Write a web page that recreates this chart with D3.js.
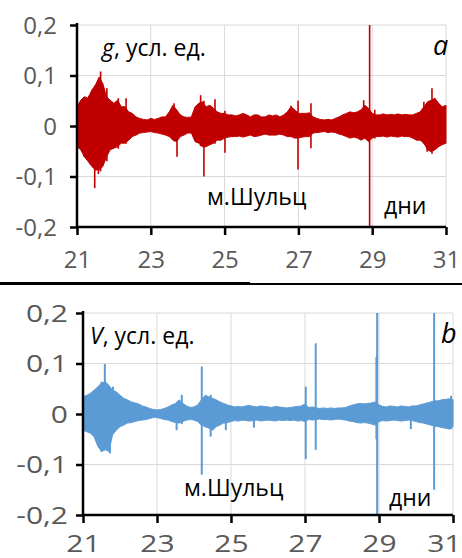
<!DOCTYPE html>
<html><head><meta charset="utf-8">
<script src="https://cdn.jsdelivr.net/npm/d3@7"></script>
<style>html,body{margin:0;padding:0;background:#fff;}svg{display:block;}</style>
</head><body>
<svg id="c" width="462" height="558"></svg>
<script>
// ---- data ----
const xTicks = [21, 23, 25, 27, 29, 31];
const yTicks = [-0.2, -0.1, 0, 0.1, 0.2];
const yTickLabels = ["-0,2", "-0,1", "0", "0,1", "0,2"];
const sampleStart = 21, sampleStep = 0.1; // envelope readings every 0.1 day

// panel a: g, upper / lower envelope of the dense signal
const gUpper = [0.038,0.051,0.058,0.055,0.071,0.081,0.097,0.084,0.058,0.051,
  0.045,0.051,0.038,0.038,0.028,0.025,0.018,0.015,0.013,0.012,
  0.015,0.013,0.015,0.018,0.018,0.028,0.041,0.032,0.022,0.018,
  0.017,0.018,0.038,0.045,0.048,0.038,0.041,0.035,0.028,0.025,
  0.025,0.022,0.022,0.020,0.022,0.025,0.022,0.018,0.022,0.022,
  0.018,0.018,0.022,0.020,0.022,0.018,0.022,0.028,0.038,0.032,
  0.025,0.025,0.025,0.026,0.018,0.015,0.013,0.012,0.013,0.012,
  0.015,0.018,0.022,0.025,0.028,0.026,0.028,0.032,0.041,0.035,
  0.025,0.022,0.022,0.024,0.022,0.023,0.022,0.024,0.022,0.023,
  0.022,0.022,0.025,0.028,0.038,0.048,0.051,0.055,0.045,0.038,0.041];
const gLower = [-0.041,-0.047,-0.061,-0.070,-0.080,-0.087,-0.087,-0.080,-0.061,-0.047,
  -0.044,-0.041,-0.034,-0.034,-0.028,-0.021,-0.018,-0.014,-0.013,-0.012,
  -0.011,-0.013,-0.014,-0.016,-0.018,-0.021,-0.028,-0.031,-0.021,-0.018,
  -0.014,-0.014,-0.031,-0.034,-0.041,-0.041,-0.037,-0.034,-0.028,-0.028,
  -0.024,-0.022,-0.021,-0.021,-0.020,-0.022,-0.020,-0.018,-0.021,-0.020,
  -0.018,-0.016,-0.018,-0.018,-0.018,-0.016,-0.018,-0.021,-0.021,-0.024,
  -0.024,-0.022,-0.021,-0.021,-0.014,-0.013,-0.012,-0.011,-0.013,-0.012,
  -0.013,-0.016,-0.018,-0.021,-0.024,-0.022,-0.024,-0.028,-0.024,-0.031,
  -0.024,-0.021,-0.021,-0.020,-0.022,-0.020,-0.021,-0.022,-0.020,-0.021,
  -0.021,-0.024,-0.028,-0.028,-0.034,-0.047,-0.051,-0.047,-0.041,-0.037,-0.034];
// spikes: [day, max, min]
const gSpikes = [[21.19,0.050,-0.061],[21.32,0.060,-0.067],[21.48,0.080,-0.123],[21.58,0.090,-0.095],
  [21.64,0.108,-0.090],[21.81,0.075,-0.070],[22.12,0.055,-0.045],[22.33,0.055,-0.035],
  [23.63,0.045,-0.030],[23.71,0.030,-0.061],[24.35,0.061,-0.040],[24.44,0.050,-0.100],
  [24.74,0.053,-0.035],[25.01,0.030,-0.053],[26.80,0.040,-0.020],[26.99,0.050,-0.086],
  [27.34,0.045,-0.044],[28.77,0.051,-0.025],[28.93,0.200,-0.200],[29.07,0.032,-0.025],
  [30.40,0.048,-0.035],[30.49,0.040,-0.051],[30.62,0.075,-0.055],[30.80,0.042,-0.040]];

// panel b: V
const vUpper = [0.034,0.037,0.041,0.047,0.054,0.061,0.064,0.057,0.047,0.044,
  0.037,0.031,0.028,0.024,0.022,0.020,0.016,0.014,0.011,0.009,
  0.008,0.009,0.011,0.014,0.018,0.021,0.028,0.021,0.016,0.013,
  0.014,0.018,0.028,0.037,0.034,0.031,0.028,0.024,0.021,0.018,
  0.016,0.014,0.015,0.014,0.016,0.017,0.015,0.014,0.016,0.015,
  0.014,0.013,0.015,0.014,0.013,0.012,0.013,0.014,0.015,0.016,
  0.020,0.013,0.014,0.012,0.011,0.012,0.011,0.012,0.011,0.012,
  0.012,0.013,0.016,0.018,0.020,0.021,0.020,0.021,0.022,0.024,
  0.018,0.015,0.014,0.016,0.015,0.014,0.016,0.015,0.014,0.016,
  0.016,0.018,0.020,0.022,0.024,0.026,0.026,0.028,0.029,0.030,0.028];
const vLower = [-0.032,-0.035,-0.038,-0.045,-0.064,-0.074,-0.071,-0.074,-0.041,-0.032,
  -0.025,-0.022,-0.018,-0.017,-0.015,-0.013,-0.012,-0.011,-0.009,-0.007,
  -0.007,-0.009,-0.011,-0.012,-0.015,-0.017,-0.018,-0.015,-0.012,-0.011,
  -0.012,-0.015,-0.022,-0.025,-0.028,-0.032,-0.025,-0.022,-0.018,-0.017,
  -0.015,-0.013,-0.014,-0.012,-0.013,-0.014,-0.013,-0.012,-0.014,-0.013,
  -0.012,-0.013,-0.014,-0.012,-0.013,-0.012,-0.013,-0.012,-0.014,-0.013,
  -0.015,-0.011,-0.012,-0.011,-0.010,-0.011,-0.011,-0.012,-0.011,-0.010,
  -0.011,-0.012,-0.014,-0.015,-0.017,-0.018,-0.017,-0.018,-0.020,-0.022,
  -0.015,-0.013,-0.014,-0.013,-0.012,-0.013,-0.014,-0.013,-0.012,-0.013,
  -0.015,-0.017,-0.018,-0.020,-0.022,-0.024,-0.025,-0.027,-0.028,-0.030,-0.025];
const vSpikes = [[21.50,0.064,-0.075],[21.59,0.099,-0.060],[21.73,0.050,-0.078],[21.81,0.054,-0.040],
  [23.53,0.020,-0.032],[23.67,0.038,-0.020],[24.21,0.094,-0.120],[24.45,0.038,-0.045],
  [24.86,0.020,-0.032],[25.62,0.015,-0.027],[27.02,0.054,-0.089],[27.29,0.140,-0.071],
  [28.93,0.113,-0.050],[28.95,0.200,-0.200],[29.86,0.015,-0.030],[30.49,0.200,-0.150],
  [30.95,0.036,-0.030]];

// ---- drawing ----
const W = 462;
const svg = d3.select("#c");
svg.append("rect").attr("width",462).attr("height",558).attr("fill","#fff");

function panel(cfg) {
  const x = d3.scaleLinear().domain([21,31]).range([cfg.x0, cfg.x1]);
  const y = d3.scaleLinear().domain([-0.2,0.2]).range([cfg.y0, cfg.y1]);
  const g = svg.append("g");
  // grid
  g.selectAll(".gx").data(xTicks.slice(1)).join("line")
    .attr("x1",d=>x(d)).attr("x2",d=>x(d)).attr("y1",y(-0.2)).attr("y2",y(0.2))
    .attr("stroke","#d9d9d9").attr("stroke-width",1);
  g.selectAll(".gy").data(yTicks.slice(1)).join("line")
    .attr("x1",x(21)).attr("x2",x(31)).attr("y1",d=>y(d)).attr("y2",d=>y(d))
    .attr("stroke","#d9d9d9").attr("stroke-width",1);
  // envelope
  const env = cfg.upper.map((u,i)=>({d: sampleStart + i*sampleStep, u, l: cfg.lower[i]}));
  const area = d3.area().x(p=>x(p.d)).y0(p=>y(p.l)).y1(p=>y(p.u));
  g.append("path").datum(env).attr("d",area)
    .attr("fill",cfg.color).attr("stroke",cfg.color).attr("stroke-width",1);
  // spikes
  g.selectAll(".sp").data(cfg.spikes).join("line")
    .attr("x1",s=>x(s[0])).attr("x2",s=>x(s[0]))
    .attr("y1",s=>y(s[1])).attr("y2",s=>y(s[2]))
    .attr("stroke",cfg.color).attr("stroke-width",cfg.spikeW);
  // axes
  const ax = g.append("g").attr("transform",`translate(0,${y(-0.2)})`)
    .call(d3.axisBottom(x).tickValues(xTicks).tickSize(8).tickSizeOuter(0).tickFormat(d3.format("d")));
  const ay = g.append("g").attr("transform",`translate(${x(21)},0)`)
    .call(d3.axisLeft(y).tickValues(yTicks).tickSize(7).tickSizeOuter(0).tickFormat((d,i)=>yTickLabels[i]));
  [ax, ay].forEach(a=>{
    a.select(".domain").attr("stroke","#000").attr("stroke-width",2.5);
    a.selectAll(".tick line").attr("stroke","#000").attr("stroke-width",2.5);
    a.selectAll(".tick text").attr("fill","#595959")
      .style("font-family","'Open Sans', sans-serif").style("font-size","24px");
  });
  ax.selectAll(".tick text").attr("y",0).attr("dy",0)
    .attr("transform",`translate(0,${cfg.xlabDy}) scale(${cfg.sx},1)`);
  // keep the last x label inside the picture
  ax.selectAll(".tick text").each(function(d){
    const bb = this.getBBox();
    const half = bb.width * cfg.sx / 2;
    const over = x(d) + half - (W - 1);
    if (over > 0) d3.select(this)
      .attr("transform",`translate(${-over},${cfg.xlabDy}) scale(${cfg.sx},1)`);
  });
  ay.selectAll(".tick text").attr("x",0).attr("dy","0.35em")
    .attr("transform",`translate(${-cfg.ylabGap},0) scale(${cfg.sx},1)`);
  ax.select(".domain").attr("d",`M${x(21)},0H${x(31)}`);
  ay.select(".domain").attr("d",`M0,${y(-0.2)+1}V${y(0.2)-2}`);
  // annotations
  const t = g.append("g").style("font-family","'Open Sans', sans-serif").attr("fill","#000");
  const lab = t.append("text").attr("x",cfg.labX).attr("y",cfg.labY).style("font-size","23px");
  lab.append("tspan").style("font-style","italic").text(cfg.sym);
  lab.append("tspan").text(", усл. ед.");
  t.append("text").attr("x",cfg.letX).attr("y",cfg.labY-1).style("font-size","27px")
    .style("font-style","italic").text(cfg.letter);
  t.append("text").attr("x",cfg.shX).attr("y",cfg.shY).style("font-size","23px").text("м.Шульц");
  t.append("text").attr("x",cfg.dnX).attr("y",cfg.dnY).style("font-size","23px").text("дни");
}

panel({x0:77, x1:446, y0:227, y1:25, upper:gUpper, lower:gLower, spikes:gSpikes, color:"#c00000",
  spikeW:1.6, sx:1, ylabGap:20, xlabDy:41, sym:"g", letter:"a", labX:102, labY:56, letX:433,
  shX:207, shY:205, dnX:384, dnY:214});
panel({x0:83, x1:453, y0:515, y1:313, upper:vUpper, lower:vLower, spikes:vSpikes, color:"#5b9bd5",
  spikeW:2, sx:1.25, ylabGap:15, xlabDy:37, sym:"V", letter:"b", labX:90, labY:344, letX:441,
  shX:184, shY:496, dnX:389, dnY:506});

// separator line between the panels
svg.append("line").attr("x1",0).attr("x2",250).attr("y1",283.5).attr("y2",283.5)
  .attr("stroke","#000").attr("stroke-width",3);
svg.append("line").attr("x1",250).attr("x2",462).attr("y1",284).attr("y2",284)
  .attr("stroke","#000").attr("stroke-width",1.8);
</script>
</body></html>
